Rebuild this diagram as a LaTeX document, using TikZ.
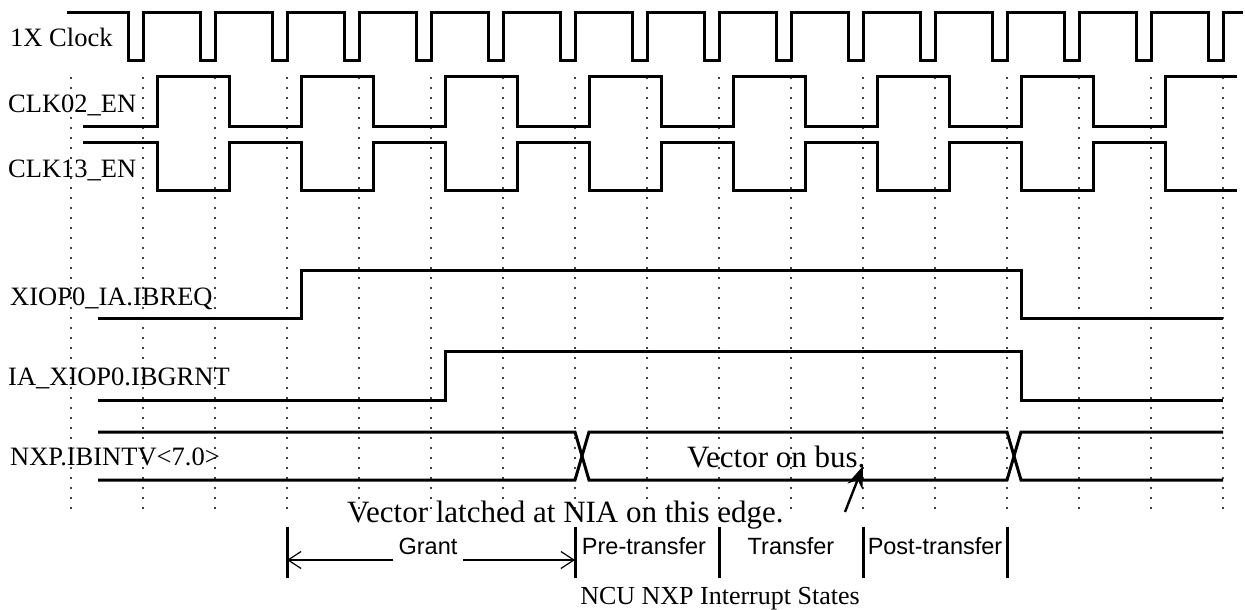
\documentclass[tikz,border=0pt]{standalone}
\usepackage{fontspec}
\setmainfont{Liberation Serif}
\newfontfamily\statefont{Liberation Sans}
\usetikzlibrary{arrows.meta}

\tikzset{
  sig/.style={line width=3pt,line join=miter},
  tick/.style={line width=2.4pt,line cap=round,dash pattern=on 0pt off 10pt},
  lbl/.style={anchor=base west,inner sep=0pt,font=\fontsize{26.5}{30}\selectfont},
  note/.style={anchor=base west,inner sep=0pt,font=\fontsize{31}{36}\selectfont},
  phase/.style={anchor=base,inner sep=0pt,font=\statefont\fontsize{23.5}{28}\selectfont},
  bar/.style={line width=3pt},
  gline/.style={line width=1.2pt,-{Straight Barb[length=13pt,width=17pt,line width=1.2pt]}},
}

\begin{document}
\begin{tikzpicture}[x=1pt,y=-1pt]
\useasboundingbox (0,0) rectangle (1245,610);
% dotted lines on the clock edges
\foreach \k in {0,...,16}
  \draw[tick] ({71+72*\k},78) -- ({71+72*\k},512);
% 1X Clock
\draw[sig] (67,13) \foreach \k in {1,...,16} {-- ({56+72*\k},13) -- ({56+72*\k},61) -- ({71+72*\k},61) -- ({71+72*\k},13)} -- (1243,13);
% enables
\draw[sig] (83,126) \foreach \k in {1,3,...,13} {-- ({85+72*\k},126) -- ({85+72*\k},77) -- ({157+72*\k},77) -- ({157+72*\k},126)} -- (1165,126) -- (1165,77) -- (1237,77);
\draw[sig] (83,142) \foreach \k in {1,3,...,13} {-- ({85+72*\k},142) -- ({85+72*\k},190) -- ({157+72*\k},190) -- ({157+72*\k},142)} -- (1165,142) -- (1165,190) -- (1237,190);
% request / grant
\draw[sig] (98,318) -- (301,318) -- (301,270) -- (1021,270) -- (1021,318) -- (1223,318);
\draw[sig] (98,400) -- (445,400) -- (445,351) -- (1021,351) -- (1021,400) -- (1223,400);
% vector bus
\draw[sig] (98,432) -- (575,432) -- (589,480) -- (1007,480) -- (1021,432) -- (1223,432);
\draw[sig] (98,480) -- (575,480) -- (589,432) -- (1007,432) -- (1021,480) -- (1223,480);

\node[lbl] (clk) at (10,47) {1X Clock};
\node[lbl] (en02) at (8,112) {CLK02\_EN};
\node[lbl] (en13) at (8,177) {CLK13\_EN};
\node[lbl] (req) at (10,305) {XIOP0\_IA.IBREQ};
\node[lbl] (grnt) at (8,385) {IA\_XIOP0.IBGRNT};
\node[lbl] (intv) at (10,465) {NXP.IBINTV<7.0>};

\node[note] (onbus) at (687,467) {Vector on bus.};
\node[note] (latch) at (347,522) {Vector latched at NIA on this edge.};
\coordinate (tail) at (845,512);
\coordinate (tip) at (863,466);
\draw[line width=2.4pt,-{Stealth[length=22pt,width=16pt]}] (tail) -- (tip);

% interrupt states
\foreach \x/\n in {287/b0,575/b1,719/b2,863/b3,1007/b4}
  \draw[bar] (\x,527) coordinate (\n) -- (\x,578);
\coordinate (g0) at (287,560);
\coordinate (g1) at (575,560);
\node[phase] (grant) at (428,554) {Grant};
\draw[gline] ([xshift=-5pt]grant.west |- g0) -- (g0);
\draw[gline] ([xshift=5pt]grant.east |- g1) -- (g1);
\node[phase] (pre) at (644,554) {Pre-transfer};
\node[phase] (xfer) at (791,554) {Transfer};
\node[phase] (post) at (935,554) {Post-transfer};
\node[anchor=base,inner sep=0pt,font=\fontsize{26}{30}\selectfont] (title) at (720,604) {NCU NXP Interrupt States};
\end{tikzpicture}
\end{document}
